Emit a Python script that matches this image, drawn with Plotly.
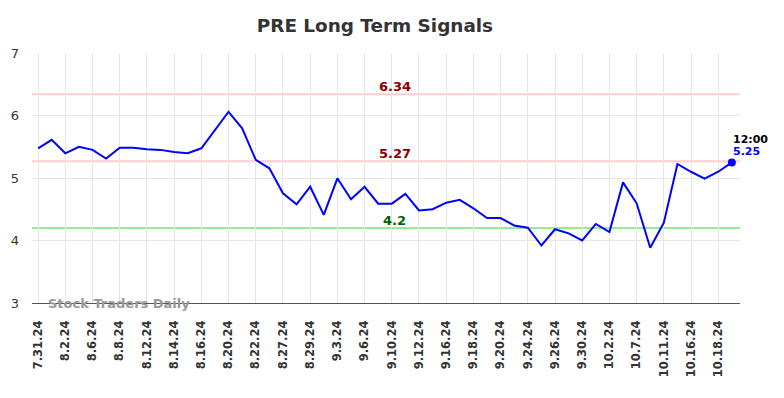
import plotly.graph_objects as go

dates = ["7.31.24", "8.1.24", "8.2.24", "8.5.24", "8.6.24", "8.7.24", "8.8.24", "8.9.24",
         "8.12.24", "8.13.24", "8.14.24", "8.15.24", "8.16.24", "8.19.24", "8.20.24", "8.21.24",
         "8.22.24", "8.23.24", "8.27.24", "8.28.24", "8.29.24", "8.30.24", "9.3.24", "9.4.24",
         "9.6.24", "9.9.24", "9.10.24", "9.11.24", "9.12.24", "9.13.24", "9.16.24", "9.17.24",
         "9.18.24", "9.19.24", "9.20.24", "9.23.24", "9.24.24", "9.25.24", "9.26.24", "9.27.24",
         "9.30.24", "10.1.24", "10.2.24", "10.3.24", "10.7.24", "10.8.24", "10.11.24", "10.14.24",
         "10.16.24", "10.17.24", "10.18.24", "10.21.24"]
values = [5.475, 5.61, 5.395, 5.50, 5.45, 5.31, 5.485, 5.485,
          5.46, 5.45, 5.415, 5.395, 5.475, 5.77, 6.06, 5.795,
          5.29, 5.155, 4.755, 4.58, 4.86, 4.41, 4.995, 4.66,
          4.86, 4.59, 4.59, 4.745, 4.48, 4.50, 4.605, 4.65,
          4.515, 4.36, 4.36, 4.24, 4.205, 3.92, 4.18, 4.115,
          4.0, 4.265, 4.135, 4.93, 4.595, 3.885, 4.285, 5.225,
          5.10, 4.99, 5.10, 5.25]
tick_labels = dates[::2]
upper_levels = [6.34, 5.27]
lower_level = 4.2
last_time = "12:00"
last_value = 5.25

fig = go.Figure()
fig.add_trace(go.Scatter(x=dates, y=values, mode="lines",
                         line=dict(color="#0000ff", width=2), hoverinfo="skip"))
fig.add_trace(go.Scatter(x=[dates[-1]], y=[values[-1]], mode="markers",
                         marker=dict(color="#0000ff", size=8), hoverinfo="skip"))

for lv in upper_levels:
    fig.add_hline(y=lv, line=dict(color="#ffcccc", width=2), layer="below")
    fig.add_annotation(x=dates[26], y=lv, text=f"<b>{lv:.2f}</b>", showarrow=False,
                       yshift=8, xshift=3, font=dict(color="#8b0000", size=13, family="DejaVu Sans"))
fig.add_hline(y=lower_level, line=dict(color="#90ee90", width=2), layer="below")
fig.add_annotation(x=dates[26], y=lower_level, text=f"<b>{lower_level}</b>", showarrow=False,
                   yshift=8, xshift=3, font=dict(color="#006400", size=13, family="DejaVu Sans"))

fig.add_annotation(x=dates[-1], y=last_value, text=f"<b>{last_time}</b>", showarrow=False,
                   xanchor="left", xshift=-1, yshift=23,
                   font=dict(color="#000000", size=11, family="DejaVu Sans"))
fig.add_annotation(x=dates[-1], y=last_value, text=f"<b>{last_value:.2f}</b>", showarrow=False,
                   xanchor="left", xshift=-1, yshift=11,
                   font=dict(color="#0000ff", size=11, family="DejaVu Sans"))

fig.add_annotation(xref="paper", yref="paper", x=0.02, y=0.0, text="<b>Stock Traders Daily</b>",
                   showarrow=False, xanchor="left", yanchor="middle",
                   font=dict(color="#999999", size=13, family="DejaVu Sans"))

fig.update_layout(
    width=784, height=398,
    margin=dict(l=24, r=52, t=45, b=103),
    paper_bgcolor="white", plot_bgcolor="white",
    showlegend=False,
    title=dict(text="<b>PRE Long Term Signals</b>", x=0.468, xanchor="center",
               y=0.955, yanchor="middle",
               font=dict(size=18.4, color="#333333", family="DejaVu Sans")),
    font=dict(family="DejaVu Sans", color="#333333"),
)
fig.update_xaxes(type="category", categoryorder="array", categoryarray=dates,
                 tickmode="array", tickvals=tick_labels, ticktext=[f"<b>{t}</b>" for t in tick_labels],
                 tickangle=-90, tickfont=dict(size=11.5, color="#333333"),
                 range=[-0.45, 51.6], showgrid=True, gridcolor="#e6e6e6", gridwidth=1,
                 showline=True, linecolor="#555555", linewidth=1, ticks="", zeroline=False,
                 ticklabelstandoff=12, automargin=False)
fig.update_yaxes(range=[3, 7], tickvals=[3, 4, 5, 6, 7], tickfont=dict(size=13, color="#333333"),
                 showgrid=True, gridcolor="#e6e6e6", gridwidth=1, zeroline=False, ticks="",
                 ticklabelstandoff=12, automargin=False)

fig.write_html("out.html")
